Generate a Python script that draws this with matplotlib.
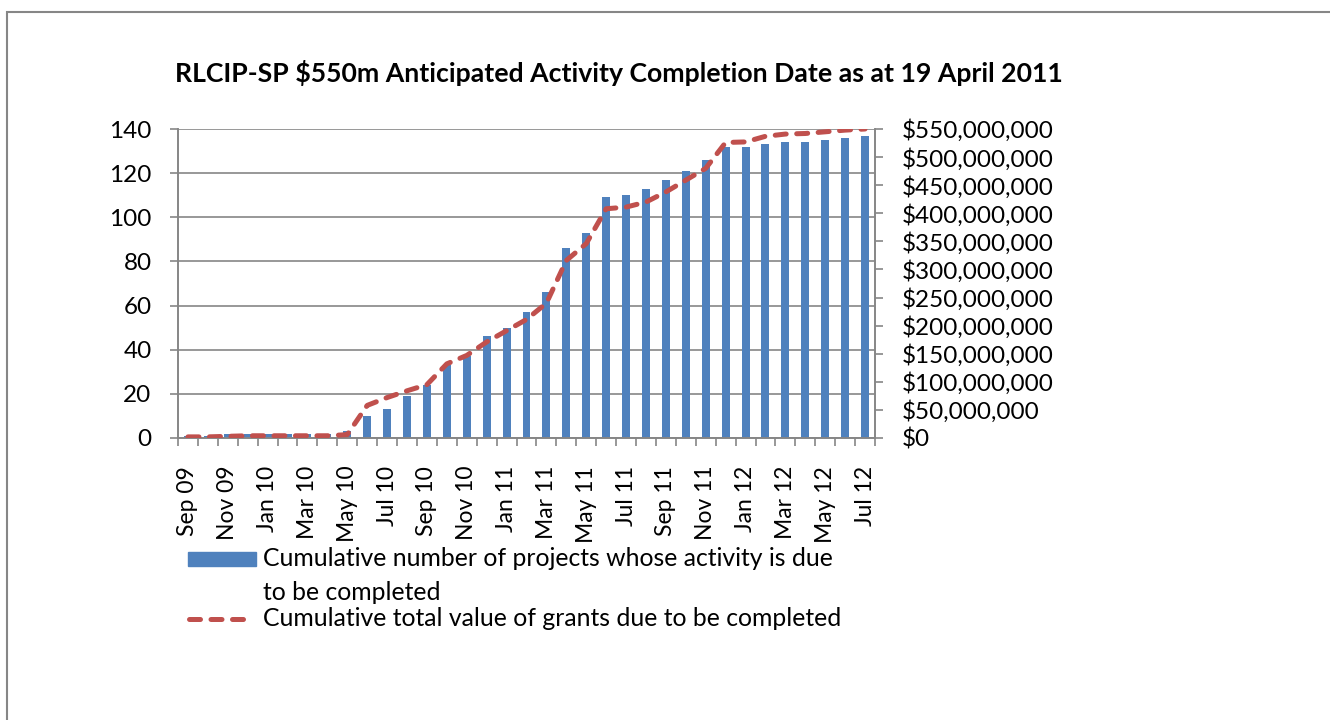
import matplotlib.pyplot as plt
from matplotlib.patches import Rectangle
from matplotlib.lines import Line2D
from matplotlib.ticker import FuncFormatter, FixedLocator

plt.rcParams['font.family'] = ['Lato', 'DejaVu Sans']

# data
months = ['Sep 09', 'Oct 09', 'Nov 09', 'Dec 09', 'Jan 10', 'Feb 10', 'Mar 10', 'Apr 10',
          'May 10', 'Jun 10', 'Jul 10', 'Aug 10', 'Sep 10', 'Oct 10', 'Nov 10', 'Dec 10',
          'Jan 11', 'Feb 11', 'Mar 11', 'Apr 11', 'May 11', 'Jun 11', 'Jul 11', 'Aug 11',
          'Sep 11', 'Oct 11', 'Nov 11', 'Dec 11', 'Jan 12', 'Feb 12', 'Mar 12', 'Apr 12',
          'May 12', 'Jun 12', 'Jul 12']
projects = [1, 1, 2, 2, 2, 2, 2, 2, 3, 10, 13, 19, 24, 33, 37, 46, 50, 57, 66, 86,
            93, 109, 110, 113, 117, 121, 126, 132, 132, 133, 134, 134, 135, 136, 137]
grants = [2e6, 2e6, 3e6, 4e6, 4e6, 4e6, 4e6, 4e6, 6e6, 58e6, 72e6, 84e6, 95e6, 132e6,
          147e6, 171e6, 191e6, 211e6, 240e6, 316e6, 346e6, 408e6, 411e6, 420e6, 438e6,
          459e6, 480e6, 526e6, 527e6, 537e6, 541e6, 542e6, 545e6, 548e6, 550e6]

blue = '#4F81BD'
red = '#C0504D'
grey = '#868686'
fs = 17.5

fig = plt.figure(figsize=(13.3, 7.2), dpi=100)
ax = fig.add_axes([178 / 1330, 1 - 438 / 720, 697 / 1330, 309 / 720])
ax2 = ax.twinx()

x = list(range(len(months)))
ax.bar(x, projects, width=0.4, color=blue, zorder=2)
ax2.plot(x, grants, color=red, lw=3.6, dashes=(2.2, 2.1), dash_capstyle='round',
         solid_capstyle='round', zorder=3)

ax.set_xlim(-0.5, len(months) - 0.5)
ax.set_ylim(0, 140)
ax.set_yticks(range(0, 141, 20))
ax2.set_ylim(0, 550e6)
ax2.set_yticks([i * 50e6 for i in range(12)])
ax2.yaxis.set_major_formatter(FuncFormatter(lambda v, p: '${:,.0f}'.format(v)))

ax.set_xticks(x[::2])
ax.set_xticklabels(months[::2], rotation=90, fontsize=16.5)
ax.xaxis.set_minor_locator(FixedLocator([i - 0.5 for i in range(len(months) + 1)]))
ax.tick_params(axis='x', which='major', length=0, pad=20)
ax.tick_params(axis='x', which='minor', length=6, color=grey, width=1.2)
ax.tick_params(axis='y', length=6, color=grey, width=1.2, pad=13, labelsize=fs)
ax2.tick_params(axis='y', length=6, color=grey, width=1.2, pad=13, labelsize=fs)

ax.grid(axis='y', color=grey, lw=1.2, zorder=0)
ax.set_axisbelow(True)
for a in (ax, ax2):
    a.spines['top'].set_visible(False)
    for s in ('left', 'right', 'bottom'):
        a.spines[s].set_color(grey)
        a.spines[s].set_linewidth(1.2)

fig.text(619 / 1330, 1 - 73 / 720,
         'RLCIP-SP $550m Anticipated Activity Completion Date as at 19 April 2011',
         ha='center', va='center', fontsize=19.2, fontweight='bold')

# legend
fig.add_artist(Rectangle((188 / 1330, 1 - 566 / 720), 68 / 1330, 14 / 720,
                         transform=fig.transFigure, color=blue))
fig.add_artist(Line2D([189 / 1330, 248 / 1330], [1 - 619 / 720] * 2, transform=fig.transFigure,
                      color=red, lw=3.6, dashes=(2.2, 2.1), dash_capstyle='round'))
fig.text(263 / 1330, 1 - 559 / 720, 'Cumulative number of projects whose activity is due',
         va='center', fontsize=17.8)
fig.text(263 / 1330, 1 - 592 / 720, 'to be completed', va='center', fontsize=17.8)
fig.text(263 / 1330, 1 - 619 / 720, 'Cumulative total value of grants due to be completed',
         va='center', fontsize=17.8)

fig.add_artist(Rectangle((7 / 1330, -0.1), 1.2, 1.1 - 12 / 720, transform=fig.transFigure,
                         fill=False, edgecolor=grey, lw=1.5))

fig.savefig('out.png', dpi=100)
